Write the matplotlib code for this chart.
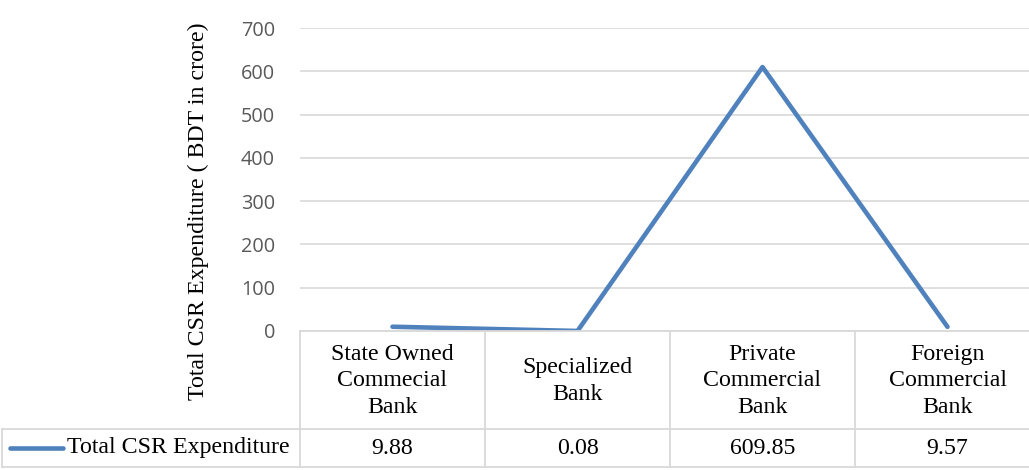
import matplotlib
matplotlib.use("Agg")
import matplotlib.pyplot as plt
from matplotlib.lines import Line2D
from matplotlib.transforms import blended_transform_factory

# Data
categories = ["State Owned\nCommecial\nBank", "Specialized\nBank",
              "Private\nCommercial\nBank", "Foreign\nCommercial\nBank"]
values = [9.88, 0.08, 609.85, 9.57]
value_labels = ["9.88", "0.08", "609.85", "9.57"]
series_name = "Total CSR Expenditure"
y_ticks = [0, 100, 200, 300, 400, 500, 600, 700]
y_label = "Total CSR Expenditure ( BDT in crore)"

W, H = 1029, 470
DPI = 100
LINE_COLOR = "#4f81bd"
GRID_COLOR = "#d9d9d9"
SERIF = "Liberation Serif"
TICK_FONT = "Open Sans"
TXT_SIZE = 17.2

fig = plt.figure(figsize=(W / DPI, H / DPI), dpi=DPI)


def fx(px):
    return px / W


def fy(py):
    return 1 - py / H


# Plot area (pixel geometry; the last column runs past the right edge)
ax_left, ax_right, ax_top, ax_bottom = 300, 1040, 28, 331
ax = fig.add_axes([fx(ax_left), fy(ax_bottom),
                   fx(ax_right - ax_left), (ax_bottom - ax_top) / H])
x = list(range(len(values)))
ax.plot(x, values, color=LINE_COLOR, lw=3.3, solid_capstyle="round",
        solid_joinstyle="round")
ax.set_xlim(-0.5, len(values) - 0.5)
ax.set_ylim(0, 700)
ax.set_yticks(y_ticks)
ax.set_yticklabels([str(t) for t in y_ticks], fontfamily=TICK_FONT,
                   fontsize=14.3, color="#595959")
ax.tick_params(axis="y", length=0, pad=18)
ax.set_xticks([])
ax.grid(axis="y", color=GRID_COLOR, lw=1.2)
ax.set_axisbelow(True)
for s in ax.spines.values():
    s.set_visible(False)

# Y axis title
fig.text(fx(198), fy(211), y_label, rotation=90, ha="center", va="center",
         fontfamily=SERIF, fontsize=TXT_SIZE, color="black")

# Data table below the plot area
trans = blended_transform_factory(ax.transData, fig.transFigure)
row_top, row_mid, row_bot = fy(331), fy(429), fy(467)
n = len(values)
lw_tab = 1.3

# horizontal rules
fig.add_artist(Line2D([-0.5, n - 0.5], [row_top, row_top], transform=trans,
                      color=GRID_COLOR, lw=lw_tab))
fig.add_artist(Line2D([fx(2), fx(ax_right)], [row_mid, row_mid],
                      transform=fig.transFigure, color=GRID_COLOR, lw=lw_tab))
fig.add_artist(Line2D([fx(2), fx(ax_right)], [row_bot, row_bot],
                      transform=fig.transFigure, color=GRID_COLOR, lw=lw_tab))
# vertical rules
for i in range(n + 1):
    fig.add_artist(Line2D([i - 0.5, i - 0.5], [row_bot, row_top], transform=trans,
                          color=GRID_COLOR, lw=lw_tab))
fig.add_artist(Line2D([fx(2), fx(2)], [row_bot, row_mid],
                      transform=fig.transFigure, color=GRID_COLOR, lw=lw_tab))

# header and value cells
for i in range(n):
    fig.text(i, (row_top + row_mid) / 2 - 0.002, categories[i], transform=trans,
             ha="center", va="center", fontfamily=SERIF, fontsize=TXT_SIZE,
             linespacing=1.34, color="black")
    fig.text(i, (row_mid + row_bot) / 2, value_labels[i], transform=trans,
             ha="center", va="center", fontfamily=SERIF, fontsize=TXT_SIZE,
             color="black")

# legend key in the row label cell
key_y = (row_mid + row_bot) / 2
fig.add_artist(Line2D([fx(10), fx(63)], [key_y, key_y], transform=fig.transFigure,
                      color=LINE_COLOR, lw=3.3, solid_capstyle="round"))
fig.text(fx(67), key_y, series_name, ha="left", va="center",
         fontfamily=SERIF, fontsize=TXT_SIZE, color="black")

fig.savefig("out.png", dpi=DPI)
